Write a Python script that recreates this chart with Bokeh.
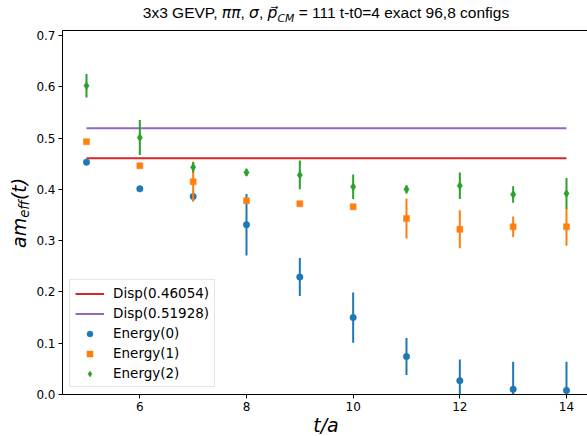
from bokeh.plotting import figure
from bokeh.models import (Legend, LegendItem, LinearAxis, FixedTicker, Div,
                          PrintfTickFormatter, Range1d, ColumnDataSource)
from bokeh.layouts import column, row
from bokeh.embed import file_html
from bokeh.resources import INLINE

# ---------------- data ----------------
t = [5, 6, 7, 8, 9, 10, 11, 12, 13, 14]
e0 = [0.453, 0.401, 0.386, 0.331, 0.229, 0.150, 0.074, 0.027, 0.010, 0.008]
e0_err = [0.003, 0.004, 0.008, 0.060, 0.037, 0.049, 0.036, 0.041, 0.054, 0.056]
e1 = [0.493, 0.446, 0.415, 0.378, 0.372, 0.366, 0.343, 0.322, 0.327, 0.327]
e1_err = [0.004, 0.004, 0.039, 0.005, 0.004, 0.004, 0.039, 0.037, 0.020, 0.037]
e2 = [0.602, 0.501, 0.443, 0.433, 0.428, 0.405, 0.400, 0.407, 0.390, 0.392]
e2_err = [0.023, 0.034, 0.010, 0.007, 0.028, 0.024, 0.008, 0.026, 0.016, 0.030]
disp = [0.46054, 0.51928]
x_ticks = [6, 8, 10, 12, 14]
y_ticks = [0.0, 0.1, 0.2, 0.3, 0.4, 0.5, 0.6, 0.7]

BLUE, ORANGE, GREEN, RED, PURPLE = "#1f77b4", "#ff7f0e", "#2ca02c", "#d62728", "#9467bd"

p = figure(width=557, height=389, output_backend="svg", toolbar_location=None,
           x_range=Range1d(4.55, 14.394), y_range=Range1d(0, 0.7097),
           min_border_left=32, min_border_right=0, min_border_top=3, min_border_bottom=22,
           margin=(0, 0, 0, 0))
p.outline_line_color = None
p.xgrid.visible = False
p.ygrid.visible = False
p.background_fill_color = "white"
p.border_fill_color = "white"

for ax in (p.xaxis[0], p.yaxis[0]):
    ax.axis_line_color = "black"
    ax.axis_line_width = 1
    ax.major_tick_line_color = "black"
    ax.major_tick_out = 4
    ax.major_tick_in = 0
    ax.minor_tick_line_color = None
    ax.major_label_text_font = "DejaVu Sans"
    ax.major_label_text_font_size = "12px"
    ax.major_label_text_color = "black"
    ax.major_label_standoff = 3
p.xaxis[0].ticker = FixedTicker(ticks=x_ticks)
p.yaxis[0].ticker = FixedTicker(ticks=y_ticks)
p.yaxis[0].formatter = PrintfTickFormatter(format="%.1f")

top = LinearAxis(ticker=FixedTicker(ticks=x_ticks), axis_line_color="black",
                 major_tick_line_color=None, minor_tick_line_color=None,
                 major_tick_out=0, major_tick_in=0, major_label_standoff=0,
                 major_label_text_color=None, major_label_text_font_size="1px")
p.add_layout(top, "above")

# horizontal dispersion lines
r_red = p.line([t[0], t[-1]], [disp[0], disp[0]], line_color=RED, line_width=2)
r_pur = p.line([t[0], t[-1]], [disp[1], disp[1]], line_color=PURPLE, line_width=2)

def series(vals, errs, color, marker, size):
    lo = [v - e for v, e in zip(vals, errs)]
    hi = [v + e for v, e in zip(vals, errs)]
    src = ColumnDataSource(dict(t=t, v=vals, lo=lo, hi=hi))
    p.segment(x0="t", y0="lo", x1="t", y1="hi", source=src, line_color=color, line_width=2)
    return p.scatter(x="t", y="v", source=src, marker=marker, size=size,
                     fill_color=color, line_color=color, line_width=0.5)

r0 = series(e0, e0_err, BLUE, "circle", 6.5)
r1 = series(e1, e1_err, ORANGE, "square", 6)
r2 = series(e2, e2_err, GREEN, "diamond", 8)

legend = Legend(items=[
    LegendItem(label=f"Disp({disp[0]})", renderers=[r_red]),
    LegendItem(label=f"Disp({disp[1]})", renderers=[r_pur]),
    LegendItem(label="Energy(0)", renderers=[r0]),
    LegendItem(label="Energy(1)", renderers=[r1]),
    LegendItem(label="Energy(2)", renderers=[r2]),
], location=(7, 7))
legend.border_line_color = "#cccccc"
legend.border_line_width = 1
legend.background_fill_alpha = 0.8
legend.label_text_font = "DejaVu Sans"
legend.label_text_font_size = "13.5px"
legend.label_text_color = "black"
legend.glyph_width = 29
legend.glyph_height = 15
legend.label_height = 15
legend.label_standoff = 9
legend.spacing = 4
legend.padding = 5
legend.margin = 0
p.add_layout(legend)

# ---------------- texts as HTML ----------------
MATH = "font-family:'DejaVu Sans';font-style:italic;"
title_html = (
    "<div style=\"position:relative;top:3px;left:65px;width:522px;text-align:center;"
    "white-space:nowrap;font-family:'Liberation Sans';font-size:15.5px;line-height:20px;color:black;\">"
    f"3x3 GEVP, <span style=\"{MATH}\">\u03c0\u03c0</span>, "
    f"<span style=\"{MATH}\">\u03c3</span>, "
    f"<span style=\"{MATH}\">p\u20d7</span>"
    f"<span style=\"{MATH}font-size:10.85px;position:relative;top:3.5px;\">CM</span>"
    " = 111 t-t0=4 exact 96,8 configs</div>"
)
title_div = Div(text=title_html, width=587, height=27, margin=(0, 0, 0, 0))

ylab_html = (
    f"<div style=\"position:relative;left:8.4px;top:221px;transform:rotate(-90deg);"
    f"transform-origin:left top;white-space:nowrap;{MATH}font-size:19px;line-height:22px;"
    "color:black;width:90px;\">"
    f"am<span style=\"font-size:13.3px;position:relative;top:3px;\">eff</span>(t)</div>"
)
ylab_div = Div(text=ylab_html, width=30, height=389, margin=(0, 0, 0, 0))

xlab_html = (
    f"<div style=\"position:relative;top:-1.6px;left:65px;width:522px;text-align:center;"
    f"white-space:nowrap;{MATH}font-size:19px;line-height:22px;color:black;\">t/a</div>"
)
xlab_div = Div(text=xlab_html, width=587, height=20, margin=(0, 0, 0, 0))

layout = column(title_div, row(ylab_div, p, spacing=0, margin=(0, 0, 0, 0)), xlab_div,
                spacing=0, margin=(0, 0, 0, 0))

open("out.html", "w").write(file_html(layout, INLINE))
